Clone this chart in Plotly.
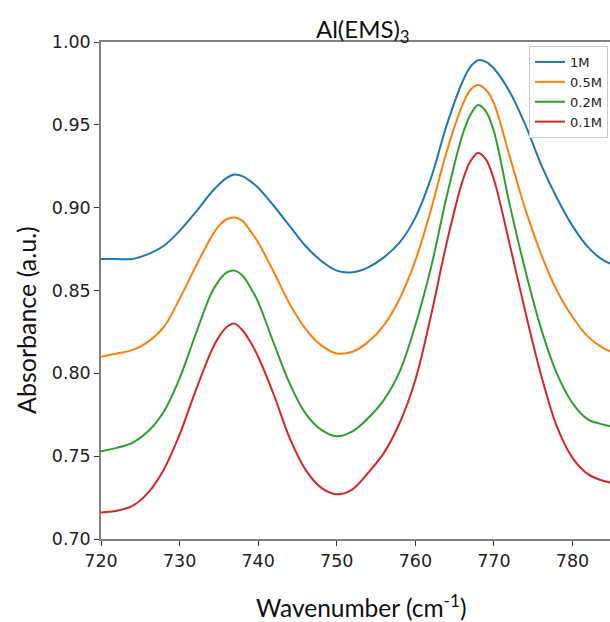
import plotly.graph_objects as go

wavenumber = [720, 722, 724, 726, 728, 730, 732, 734, 735, 736, 737, 738, 739, 740, 742, 744,
              746, 748, 750, 752, 754, 756, 758, 760, 762, 764, 766, 767, 768, 769, 770, 772,
              774, 776, 778, 780, 782, 784, 785]

abs_1M = [0.869, 0.869, 0.869, 0.872, 0.877, 0.886, 0.897, 0.909, 0.914, 0.918, 0.920, 0.919,
          0.916, 0.912, 0.901, 0.889, 0.877, 0.868, 0.862, 0.861, 0.864, 0.870, 0.879, 0.894,
          0.918, 0.950, 0.976, 0.985, 0.989, 0.988, 0.984, 0.970, 0.950, 0.926, 0.906, 0.889,
          0.876, 0.868, 0.866]

abs_05M = [0.810, 0.812, 0.814, 0.819, 0.828, 0.845, 0.864, 0.882, 0.889, 0.893, 0.894, 0.892,
           0.886, 0.879, 0.861, 0.842, 0.827, 0.817, 0.812, 0.813, 0.819, 0.829, 0.845, 0.868,
           0.899, 0.934, 0.962, 0.971, 0.974, 0.971, 0.963, 0.931, 0.899, 0.872, 0.850, 0.834,
           0.822, 0.815, 0.813]

abs_02M = [0.753, 0.755, 0.758, 0.765, 0.777, 0.797, 0.823, 0.848, 0.856, 0.861, 0.862, 0.859,
           0.852, 0.843, 0.818, 0.794, 0.776, 0.766, 0.762, 0.765, 0.773, 0.784, 0.801, 0.829,
           0.864, 0.907, 0.944, 0.956, 0.962, 0.958, 0.946, 0.902, 0.862, 0.827, 0.800, 0.782,
           0.772, 0.769, 0.768]

abs_01M = [0.716, 0.717, 0.720, 0.728, 0.742, 0.763, 0.789, 0.813, 0.822, 0.828, 0.830, 0.826,
           0.819, 0.810, 0.787, 0.761, 0.742, 0.731, 0.727, 0.730, 0.740, 0.752, 0.770, 0.796,
           0.835, 0.879, 0.916, 0.928, 0.933, 0.929, 0.917, 0.878, 0.837, 0.799, 0.768, 0.749,
           0.739, 0.735, 0.734]

series_names = ["1M", "0.5M", "0.2M", "0.1M"]
series_values = [abs_1M, abs_05M, abs_02M, abs_01M]
colors = ["#1f77b4", "#ff7f0e", "#2ca02c", "#d62728"]

x_ticks = [720, 730, 740, 750, 760, 770, 780]
y_ticks = [0.70, 0.75, 0.80, 0.85, 0.90, 0.95, 1.00]

fig = go.Figure()
for name, vals, col in zip(series_names, series_values, colors):
    fig.add_trace(go.Scatter(x=wavenumber, y=vals, mode="lines", name=name,
                             line=dict(color=col, width=2, shape="spline", smoothing=1.0)))

W, H = 610, 622
L, R, T, B = 101, 0, 42, 83
pw = W - L - R
ph = H - T - B

def px_x(px):
    return (px - L) / pw

def px_y(py):
    return (H - B - py) / ph

tick_font = dict(family="DejaVu Sans", size=17.5, color="#222222")
label_font_family = "Lato"

fig.update_layout(
    width=W, height=H,
    margin=dict(l=L, r=R, t=T, b=B, pad=0),
    paper_bgcolor="white", plot_bgcolor="white",
    showlegend=True,
    legend=dict(x=px_x(529), y=px_y(46), xanchor="left", yanchor="top",
                bgcolor="rgba(255,255,255,0.9)", bordercolor="#cccccc", borderwidth=1,
                font=dict(family="DejaVu Sans", size=13, color="#222222"),
                itemwidth=30, tracegroupgap=0),
    xaxis=dict(range=[720, 784.77], tickvals=x_ticks, ticktext=[str(v) for v in x_ticks],
               showgrid=False, zeroline=False, showline=True, linecolor="#808080", linewidth=1.5,
               mirror=True, ticks="outside", ticklen=5, tickcolor="#333333", tickwidth=1.2,
               tickfont=tick_font),
    yaxis=dict(range=[0.70, 1.00], tickvals=y_ticks, ticktext=["%.2f" % v for v in y_ticks],
               showgrid=False, zeroline=False, showline=True, linecolor="#808080", linewidth=1.5,
               ticks="outside", ticklen=5, tickcolor="#333333", tickwidth=1.2,
               tickfont=tick_font),
    annotations=[
        dict(text="Al(EMS)<sub>3</sub>", x=px_x(363), y=px_y(31), xref="paper", yref="paper",
             xanchor="center", yanchor="middle", showarrow=False,
             font=dict(family=label_font_family, size=24, color="#111111")),
        dict(text="Wavenumber (cm<sup>-1</sup>)", x=px_x(361), y=px_y(606), xref="paper", yref="paper",
             xanchor="center", yanchor="middle", showarrow=False,
             font=dict(family=label_font_family, size=24.5, color="#111111")),
        dict(text="Absorbance (a.u.)", x=px_x(26), y=px_y(320), xref="paper", yref="paper",
             xanchor="center", yanchor="middle", showarrow=False, textangle=-90,
             font=dict(family=label_font_family, size=25, color="#111111")),
    ],
)

fig.write_html("out.html")
